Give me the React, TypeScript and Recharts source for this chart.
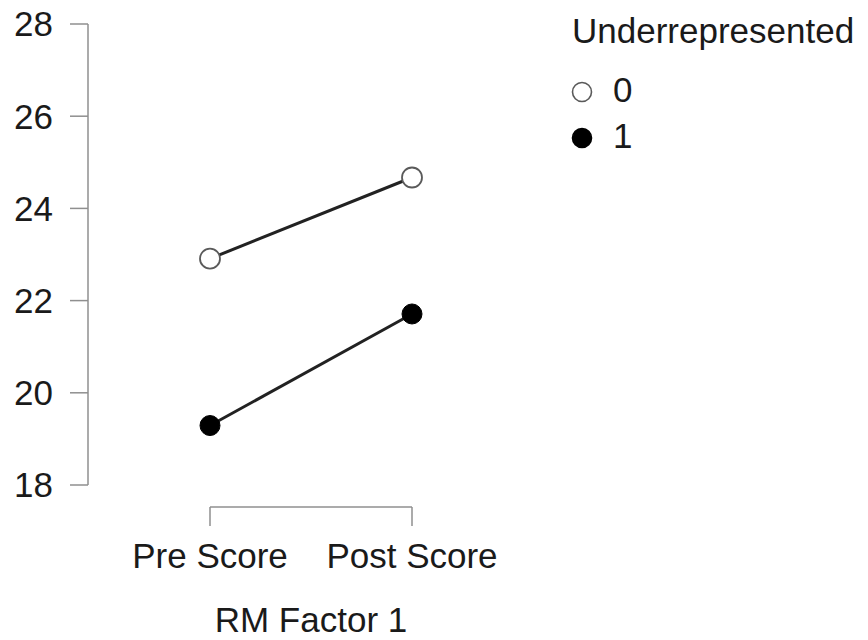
import React from 'react';
import { LineChart, Line, XAxis, YAxis, Legend, Label } from 'recharts';

// RM Factor 1 levels and the two Underrepresented groups
const conditions = ['Pre Score', 'Post Score'];
const group0 = [22.91, 24.67];
const group1 = [19.29, 21.71];
const yTicks = [18, 20, 22, 24, 26, 28];

const data = conditions.map((c, i) => ({ cond: c, g0: group0[i], g1: group1[i] }));

const FONT = '"Liberation Sans", Arial, Helvetica, sans-serif';
const TEXT = '#1a1a1a';
const AXIS = '#8f8f8f';

const markerStyle: Record<string, { fill: string; stroke: string }> = {
  g0: { fill: '#ffffff', stroke: '#5a5a5a' },
  g1: { fill: '#000000', stroke: '#000000' },
};

function LegendBox({ payload }: any) {
  const items = payload || [];
  return (
    <svg width={308} height={170} style={{ display: 'block' }}>
      <text x={12} y={43} fontSize={35} fontFamily={FONT} fill={TEXT}>
        Underrepresented
      </text>
      {items.map((p: any, i: number) => {
        const st = markerStyle[p.dataKey] || markerStyle.g1;
        const cy = 92 + i * 46;
        return (
          <g key={p.dataKey}>
            <circle cx={22} cy={cy} r={9.5} fill={st.fill} stroke={st.stroke} strokeWidth={1.6} />
            <text x={53} y={cy + 10} fontSize={35} fontFamily={FONT} fill={TEXT}>
              {p.value}
            </text>
          </g>
        );
      })}
    </svg>
  );
}

export default function App() {
  return (
    <div style={{ position: 'absolute', left: 0, top: 0, width: 868, height: 640, background: '#fff' }}>
      <LineChart
        width={868}
        height={640}
        data={data}
        margin={{ top: 24, right: 456, bottom: 0, left: 0 }}
      >
        {/* spacer axes push the drawn axes away from the plot, R style */}
        <XAxis xAxisId="gap" dataKey="cond" height={22} axisLine={false} tickLine={false} tick={false} />
        <XAxis
          xAxisId="main"
          dataKey="cond"
          type="category"
          scale="point"
          padding={{ left: 0, right: 0 }}
          height={133}
          axisLine={{ stroke: AXIS, strokeWidth: 1.5 }}
          tickLine={{ stroke: AXIS, strokeWidth: 1.5 }}
          tickSize={19}
          tickMargin={17}
          tick={{ fontSize: 35, fontFamily: FONT, fill: TEXT }}
          interval={0}
        >
          <Label
            value="RM Factor 1"
            position="insideBottom"
            offset={8}
            style={{ fontSize: 35, fontFamily: FONT, fill: TEXT }}
          />
        </XAxis>
        <YAxis yAxisId="gap" width={122} domain={[18, 28]} ticks={yTicks} axisLine={false} tickLine={false} tick={false} />
        <YAxis
          yAxisId="main"
          width={88}
          domain={[18, 28]}
          ticks={yTicks}
          interval={0}
          axisLine={{ stroke: AXIS, strokeWidth: 1.5 }}
          tickLine={{ stroke: AXIS, strokeWidth: 1.5 }}
          tickSize={18}
          tickMargin={17}
          tick={{ fontSize: 35, fontFamily: FONT, fill: TEXT }}
        />
        <Legend
          layout="horizontal"
          verticalAlign="middle"
          align="center"
          content={<LegendBox />}
          wrapperStyle={{ position: 'absolute', left: 560, top: 0, width: 308, height: 170 }}
        />
        <Line
          xAxisId="main"
          yAxisId="main"
          dataKey="g0"
          name="0"
          stroke="#222222"
          strokeWidth={3}
          dot={{ r: 10, fill: markerStyle.g0.fill, stroke: markerStyle.g0.stroke, strokeWidth: 1.8 }}
          activeDot={false}
          isAnimationActive={false}
        />
        <Line
          xAxisId="main"
          yAxisId="main"
          dataKey="g1"
          name="1"
          stroke="#222222"
          strokeWidth={3}
          dot={{ r: 10, fill: markerStyle.g1.fill, stroke: markerStyle.g1.stroke, strokeWidth: 1 }}
          activeDot={false}
          isAnimationActive={false}
        />
      </LineChart>
    </div>
  );
}
